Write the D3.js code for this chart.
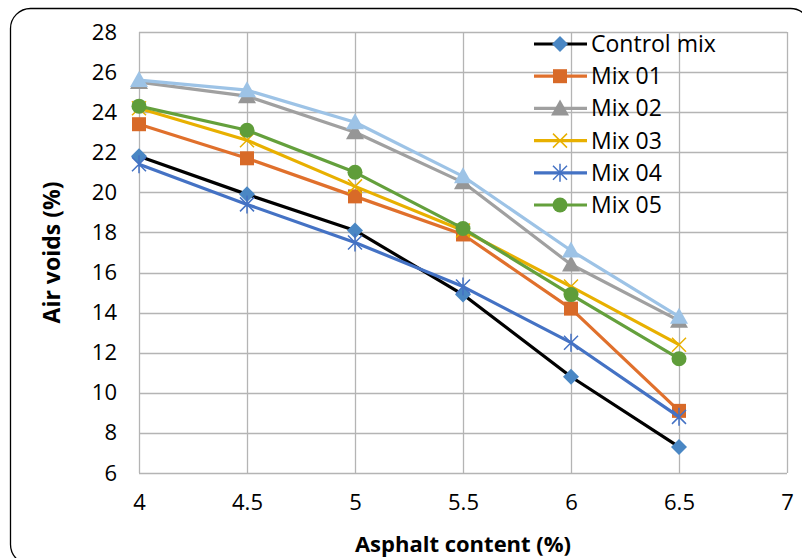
<!DOCTYPE html>
<html>
<head>
<meta charset="utf-8">
<script src="https://cdn.jsdelivr.net/npm/d3@7"></script>
<style>
  body { margin: 0; background: #fff; }
  svg { display: block; font-family: "Open Sans", "Liberation Sans", sans-serif; }
</style>
</head>
<body>
<div id="chart"></div>
<script>
// asphalt content (%) and air voids (%) per mix
const asphalt = [4, 4.5, 5, 5.5, 6, 6.5];
const controlMix = [21.8, 19.9, 18.1, 14.9, 10.8, 7.3];
const mix01 = [23.4, 21.7, 19.8, 17.9, 14.2, 9.1];
const mix02 = [25.5, 24.8, 23.0, 20.5, 16.4, 13.6];
const mix03 = [24.2, 22.6, 20.3, 18.1, 15.3, 12.4];
const mix04 = [21.4, 19.4, 17.5, 15.3, 12.5, 8.8];
const mix05 = [24.3, 23.1, 21.0, 18.2, 14.9, 11.7];
const mix06 = [25.6, 25.1, 23.5, 20.8, 17.1, 13.8]; // not listed in legend
const xTicks = [4, 4.5, 5, 5.5, 6, 6.5, 7];
const yTicks = [6, 8, 10, 12, 14, 16, 18, 20, 22, 24, 26, 28];

const series = [
  {name: "Control mix", values: controlMix, line: "#000000", mark: "#4a87c4", shape: "diamond", legend: true},
  {name: "Mix 01", values: mix01, line: "#e0702c", mark: "#d86a28", shape: "square", legend: true},
  {name: "Mix 02", values: mix02, line: "#a0a0a0", mark: "#969696", shape: "triangle", legend: true},
  {name: "Mix 03", values: mix03, line: "#e8b000", mark: "#e8b000", shape: "x", legend: true},
  {name: "Mix 04", values: mix04, line: "#4472c4", mark: "#4472c4", shape: "star", legend: true},
  {name: "Mix 05", values: mix05, line: "#64a03c", mark: "#5f9d3a", shape: "circle", legend: true},
  {name: "Mix 06", values: mix06, line: "#9dc3e6", mark: "#9dc3e6", shape: "triangle", legend: false}
];

const width = 802, height = 558;
const margin = {top: 32, right: 15, bottom: 85, left: 139};

const svg = d3.select("#chart").append("svg")
  .attr("width", width)
  .attr("height", height);

// rounded chart border, runs off the right and bottom edges
svg.append("rect")
  .attr("x", 10.5).attr("y", 8.5)
  .attr("width", 800).attr("height", 556)
  .attr("rx", 20).attr("ry", 20)
  .attr("fill", "none")
  .attr("stroke", "#000")
  .attr("stroke-width", 1.3);

const x = d3.scaleLinear().domain([4, 7]).range([margin.left, width - margin.right]);
const y = d3.scaleLinear().domain([6, 28]).range([height - margin.bottom, margin.top]);

// grid
svg.append("g")
  .selectAll("line.h")
  .data(yTicks)
  .enter().append("line")
  .attr("x1", x(4)).attr("x2", x(7))
  .attr("y1", d => Math.round(y(d)) + 0.5).attr("y2", d => Math.round(y(d)) + 0.5)
  .attr("stroke", "#b4b4b4").attr("stroke-width", 1.3);

svg.append("g")
  .selectAll("line.v")
  .data(xTicks)
  .enter().append("line")
  .attr("y1", y(6)).attr("y2", y(28))
  .attr("x1", d => Math.round(x(d)) + 0.5).attr("x2", d => Math.round(x(d)) + 0.5)
  .attr("stroke", "#b4b4b4").attr("stroke-width", 1.3);

// axes (labels only)
const xAxis = svg.append("g")
  .attr("transform", "translate(0," + y(6) + ")")
  .call(d3.axisBottom(x).tickValues(xTicks).tickSize(0).tickPadding(21).tickFormat(d3.format("")));
const yAxis = svg.append("g")
  .attr("transform", "translate(" + x(4) + ",0)")
  .call(d3.axisLeft(y).tickValues(yTicks).tickSize(0).tickPadding(22));
[xAxis, yAxis].forEach(a => {
  a.select(".domain").remove();
  a.selectAll("text").attr("font-size", 22).attr("fill", "#000")
    .attr("font-family", "'Open Sans', sans-serif");
});

svg.append("text")
  .attr("x", (x(4) + x(7)) / 2).attr("y", 552)
  .attr("text-anchor", "middle")
  .attr("font-size", 22).attr("font-weight", "bold")
  .text("Asphalt content (%)");

svg.append("text")
  .attr("transform", "translate(60," + (y(6) + y(28)) / 2 + ") rotate(-90)")
  .attr("text-anchor", "middle")
  .attr("font-size", 23).attr("font-weight", "bold")
  .text("Air voids (%)");

// marker drawing
function drawMarker(g, s, cx, cy) {
  if (s.shape === "diamond") {
    g.append("path").attr("d", `M${cx},${cy - 8}L${cx + 8},${cy}L${cx},${cy + 8}L${cx - 8},${cy}Z`)
      .attr("fill", s.mark);
  } else if (s.shape === "square") {
    g.append("rect").attr("x", cx - 7).attr("y", cy - 7).attr("width", 14).attr("height", 14)
      .attr("fill", s.mark);
  } else if (s.shape === "triangle") {
    g.append("path").attr("d", `M${cx},${cy - 9}L${cx + 9},${cy + 7}L${cx - 9},${cy + 7}Z`)
      .attr("fill", s.mark);
  } else if (s.shape === "circle") {
    g.append("circle").attr("cx", cx).attr("cy", cy).attr("r", 7.5).attr("fill", s.mark);
  } else if (s.shape === "x") {
    g.append("path").attr("d", `M${cx - 7},${cy - 7}L${cx + 7},${cy + 7}M${cx - 7},${cy + 7}L${cx + 7},${cy - 7}`)
      .attr("stroke", s.mark).attr("stroke-width", 1.5);
  } else if (s.shape === "star") {
    g.append("path").attr("d", `M${cx - 7},${cy - 7}L${cx + 7},${cy + 7}M${cx - 7},${cy + 7}L${cx + 7},${cy - 7}M${cx},${cy - 9}L${cx},${cy + 9}`)
      .attr("stroke", s.mark).attr("stroke-width", 1.5);
  }
}

const line = d3.line()
  .x((d, i) => x(asphalt[i]))
  .y(d => y(d));

series.forEach(s => {
  const g = svg.append("g");
  g.append("path")
    .datum(s.values)
    .attr("d", line)
    .attr("fill", "none")
    .attr("stroke", s.line)
    .attr("stroke-width", 3.2)
    .attr("stroke-linejoin", "round");
  s.values.forEach((v, i) => drawMarker(g, s, x(asphalt[i]), y(v)));
});

// legend
const legend = svg.append("g");
series.filter(s => s.legend).forEach((s, i) => {
  const ly = 44 + i * 32.2;
  const g = legend.append("g");
  g.append("line").attr("x1", 534).attr("x2", 587).attr("y1", ly).attr("y2", ly)
    .attr("stroke", s.line).attr("stroke-width", 3.2);
  drawMarker(g, s, 560, ly);
  g.append("text").attr("x", 591).attr("y", ly + 8)
    .attr("font-size", 23).attr("fill", "#000")
    .text(s.name);
});
</script>
</body>
</html>
